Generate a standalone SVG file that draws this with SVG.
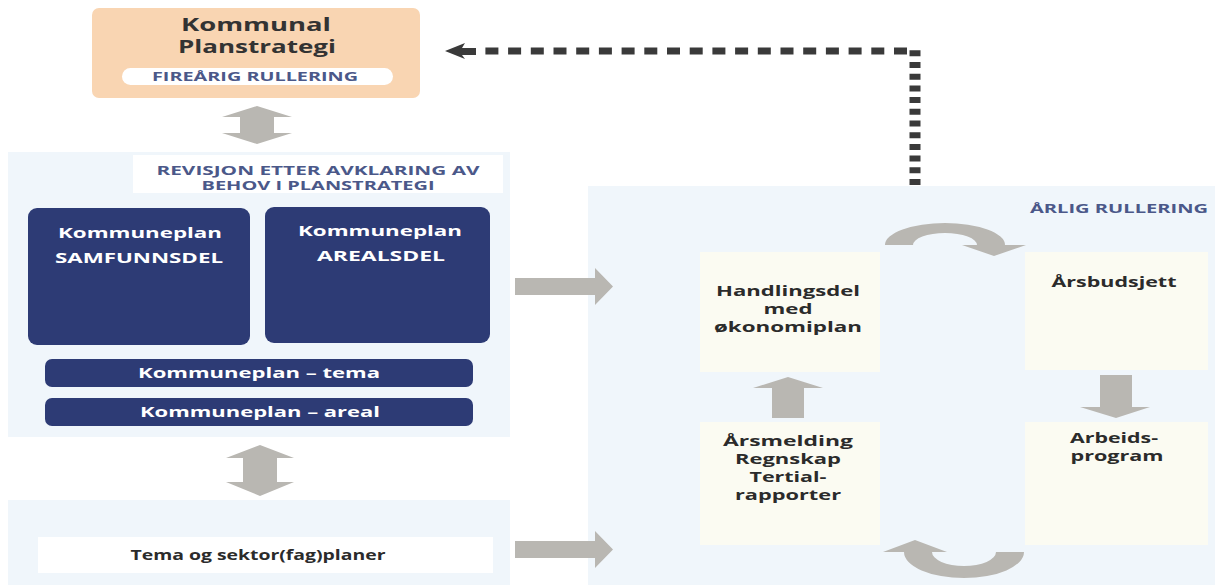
<svg xmlns="http://www.w3.org/2000/svg" width="1215" height="585" viewBox="0 0 1215 585">
<defs>
<style>
text{font-family:"Open Sans","Liberation Sans",sans-serif;font-weight:700;text-anchor:middle}
.dark{fill:#2b2b2b;font-size:14px}
.white{fill:#ffffff;font-size:14px}
.blue{fill:#4b5889;font-size:12px}
.navy{fill:#2d3b75}
.panel{fill:#f0f6fb}
.cell{fill:#fbfbf2}
.grey{fill:#b9b7b2}
</style>
</defs>
<rect width="1215" height="585" fill="#ffffff"/>

<g id="panels">
<rect class="panel" x="8" y="152" width="502" height="285"/>
<rect class="panel" x="8" y="500" width="502" height="85"/>
<rect class="panel" x="588" y="186" width="627" height="399"/>
<rect class="cell" x="700" y="252" width="180" height="120"/>
<rect class="cell" x="700" y="422" width="180" height="123"/>
<rect class="cell" x="1025" y="252" width="183" height="118"/>
<rect class="cell" x="1025" y="422" width="183" height="123"/>
</g>

<g id="planstrategi">
<rect x="92" y="8" width="328" height="90" rx="7" fill="#f9d5b2"/>
<text x="256" y="31" fill="#333333" font-size="17" textLength="150" lengthAdjust="spacingAndGlyphs">Kommunal</text>
<text x="257" y="53" fill="#333333" font-size="17" textLength="158" lengthAdjust="spacingAndGlyphs">Planstrategi</text>
<rect x="122" y="68" width="271" height="17" rx="8.5" fill="#ffffff"/>
<text class="blue" x="255" y="81" textLength="206" lengthAdjust="spacingAndGlyphs">FIREÅRIG RULLERING</text>
</g>

<g id="revisjon-label">
<rect x="133" y="155" width="370" height="38" fill="#ffffff"/>
<text class="blue" x="318" y="175" textLength="323" lengthAdjust="spacingAndGlyphs" style="font-size:12.5px">REVISJON ETTER AVKLARING AV</text>
<text class="blue" x="318" y="190" textLength="233" lengthAdjust="spacingAndGlyphs" style="font-size:12.5px">BEHOV I PLANSTRATEGI</text>
</g>

<g id="samfunnsdel">
<rect class="navy" x="28" y="208" width="222" height="137" rx="9"/>
<text class="white" x="140" y="238" textLength="164" lengthAdjust="spacingAndGlyphs">Kommuneplan</text>
<text class="white" x="139" y="263" textLength="168" lengthAdjust="spacingAndGlyphs">SAMFUNNSDEL</text>
</g>

<g id="arealsdel">
<rect class="navy" x="265" y="207" width="225" height="136" rx="9"/>
<text class="white" x="380" y="236" textLength="164" lengthAdjust="spacingAndGlyphs">Kommuneplan</text>
<text class="white" x="381" y="261" textLength="128" lengthAdjust="spacingAndGlyphs">AREALSDEL</text>
</g>

<g id="tema">
<rect class="navy" x="45" y="359" width="428" height="28" rx="7"/>
<text class="white" x="259" y="378" textLength="242" lengthAdjust="spacingAndGlyphs">Kommuneplan – tema</text>
</g>

<g id="areal">
<rect class="navy" x="45" y="398" width="428" height="28" rx="7"/>
<text class="white" x="260" y="417" textLength="240" lengthAdjust="spacingAndGlyphs">Kommuneplan – areal</text>
</g>

<g id="sektorplaner">
<rect x="38" y="537" width="455" height="36" fill="#ffffff"/>
<text class="dark" x="258" y="560" textLength="255" lengthAdjust="spacingAndGlyphs">Tema og sektor(fag)planer</text>
</g>

<g id="arlig-label">
<text class="blue" x="1119" y="213" textLength="178" lengthAdjust="spacingAndGlyphs">ÅRLIG RULLERING</text>
</g>

<g id="handlingsdel">
<text class="dark" x="788" y="296" textLength="144" lengthAdjust="spacingAndGlyphs">Handlingsdel</text>
<text class="dark" x="788" y="314" textLength="49" lengthAdjust="spacingAndGlyphs">med</text>
<text class="dark" x="788" y="332" textLength="148" lengthAdjust="spacingAndGlyphs">økonomiplan</text>
</g>

<g id="arsbudsjett">
<text class="dark" x="1114" y="287" textLength="125" lengthAdjust="spacingAndGlyphs">Årsbudsjett</text>
</g>

<g id="arbeidsprogram">
<text class="dark" x="1114" y="443" textLength="88" lengthAdjust="spacingAndGlyphs">Arbeids-</text>
<text class="dark" x="1117" y="461" textLength="93" lengthAdjust="spacingAndGlyphs">program</text>
</g>

<g id="arsmelding">
<text class="dark" x="788" y="446" textLength="130" lengthAdjust="spacingAndGlyphs">Årsmelding</text>
<text class="dark" x="788" y="464" textLength="106" lengthAdjust="spacingAndGlyphs">Regnskap</text>
<text class="dark" x="788" y="482" textLength="77" lengthAdjust="spacingAndGlyphs">Tertial-</text>
<text class="dark" x="788" y="500" textLength="106" lengthAdjust="spacingAndGlyphs">rapporter</text>
</g>

<g id="connectors">
<polygon class="grey" points="257,106 292,117 274,117 274,133 292,133 257,144 222,133 240,133 240,117 222,117"/>
<polygon class="grey" points="260,445 294,458 277,458 277,482 294,482 260,496 226,482 243,482 243,458 226,458"/>
<polygon class="grey" points="515,278 595,278 595,268 613,286.5 595,305 595,295 515,295"/>
<polygon class="grey" points="515,541 595,541 595,531 613,549.5 595,568 595,558 515,558"/>
<polygon class="grey" points="788,377 823,388 804,388 804,418 772,418 772,388 753,388"/>
<polygon class="grey" points="1100,375 1132,375 1132,407 1150,407 1116,418 1080,407 1100,407"/>
<path class="grey" d="M885 245 A60 22 0 0 1 1005 245 L1026 245 L994 256 L962 245 L977 245 A32 12 0 0 0 913 245 Z"/>
<path class="grey" d="M1024 552 A60 26 0 0 1 904 552 L883 552 L915 540 L947 552 L932 552 A32 14 0 0 0 996 552 Z"/>
<line x1="915" y1="185" x2="915" y2="46" stroke="#3a3a3a" stroke-width="11" stroke-dasharray="6 5.7"/>
<line x1="907" y1="51" x2="480" y2="51" stroke="#3a3a3a" stroke-width="7" stroke-dasharray="13 9.7"/>
<polygon fill="#3a3a3a" points="445,51 465,43 462,48 476,48 476,55 462,55 465,59"/>
</g>
</svg>
